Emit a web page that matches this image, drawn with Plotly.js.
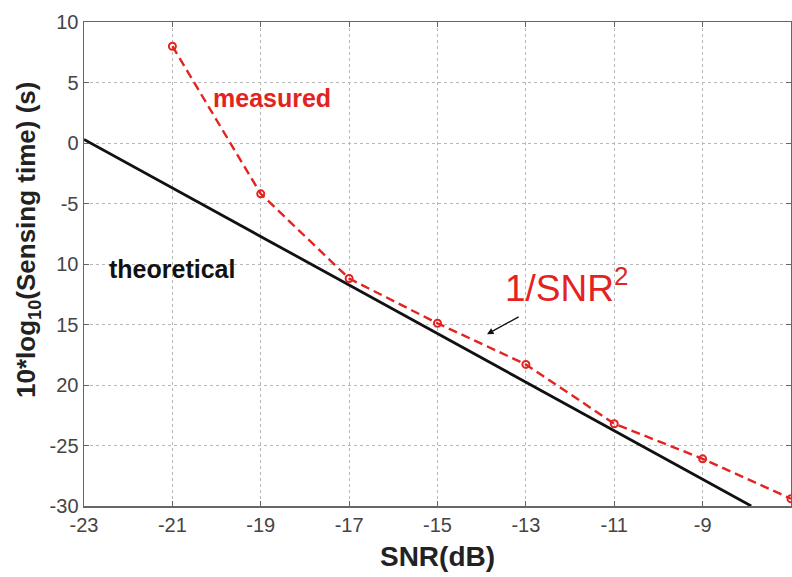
<!DOCTYPE html>
<html><head><meta charset="utf-8">
<script src="https://cdn.plot.ly/plotly-3.0.1.min.js"></script>
<style>html,body{margin:0;padding:0;background:#fff}</style>
</head><body>
<div id="chart" style="width:792px;height:577px"></div>
<script>
const theoX = [-23, -7.9];
const theoY = [0.3, -30];
const measX = [-21, -19, -17, -15, -13, -11, -9, -7];
const measY = [8, -4.2, -11.2, -14.9, -18.3, -23.2, -26.1, -29.4];
const xTicks = [-23, -21, -19, -17, -15, -13, -11, -9, -7];
const yTicks = [10, 5, 0, -5, -10, -15, -20, -25, -30];
const yTickText = ['10', '5', '0', '-5', '10', '15', '20', '-25', '-30'];

const red = '#e3231f';
const traces = [
  {x: theoX, y: theoY, mode: 'lines', line: {color: '#111', width: 2.8}, showlegend: false},
  {x: measX, y: measY, mode: 'lines+markers',
   line: {color: red, width: 2.4, dash: '9px,5px'},
   marker: {symbol: 'circle-open', size: 7, color: red, line: {width: 2}}, showlegend: false}
];
const fontF = 'Liberation Sans, Arial, sans-serif';
const layout = {
  width: 792, height: 577,
  margin: {l: 84, r: 1, t: 22, b: 71},
  paper_bgcolor: '#fff', plot_bgcolor: '#fff',
  font: {family: fontF},
  xaxis: {range: [-23, -7], tickvals: xTicks, ticktext: xTicks.map(String),
    showgrid: true, gridcolor: '#b8b8b8', griddash: 'dot', gridwidth: 1,
    zeroline: false, showline: true, linecolor: '#666', linewidth: 1.5, mirror: 'ticks',
    ticks: 'inside', ticklen: 5, tickcolor: '#666',
    tickfont: {size: 20, color: '#444', family: fontF},
    title: {text: 'SNR(dB)', font: {size: 28, color: '#222', family: fontF, weight: 'bold'}, standoff: 12}},
  yaxis: {range: [-30, 10], tickvals: yTicks, ticktext: yTickText,
    showgrid: true, gridcolor: '#b8b8b8', griddash: 'dot', gridwidth: 1,
    zeroline: false, showline: true, linecolor: '#666', linewidth: 1.5, mirror: 'ticks',
    ticks: 'inside', ticklen: 5, tickcolor: '#666',
    tickfont: {size: 20, color: '#444', family: fontF}},
  annotations: [
    {x: -0.079, y: 0.55, xref: 'paper', yref: 'paper', textangle: -90,
     text: '<b>10*log<sub>10</sub>(Sensing time) (s)</b>', showarrow: false,
     xanchor: 'center', yanchor: 'middle',
     font: {size: 26, color: '#222', family: fontF}},
    {x: -18.75, y: 3.7, xref: 'x', yref: 'y', text: '<b>measured</b>', showarrow: false,
     font: {size: 25, color: red, family: fontF}},
    {x: -21.0, y: -10.4, xref: 'x', yref: 'y', text: '<b>theoretical</b>', showarrow: false,
     font: {size: 25, color: '#111', family: fontF}},
    {x: -12.07, y: -11.8, xref: 'x', yref: 'y', text: '1/SNR<sup>2</sup>', showarrow: false,
     font: {size: 37, color: red, family: fontF}},
    {x: -13.88, y: -15.8, ax: -13.13, ay: -14.3, xref: 'x', yref: 'y', axref: 'x', ayref: 'y',
     text: '', showarrow: true, arrowhead: 2, arrowsize: 1, arrowwidth: 1.3, arrowcolor: '#111'}
  ]
};
Plotly.newPlot('chart', traces, layout, {displayModeBar: false, staticPlot: true});
</script>
</body></html>
